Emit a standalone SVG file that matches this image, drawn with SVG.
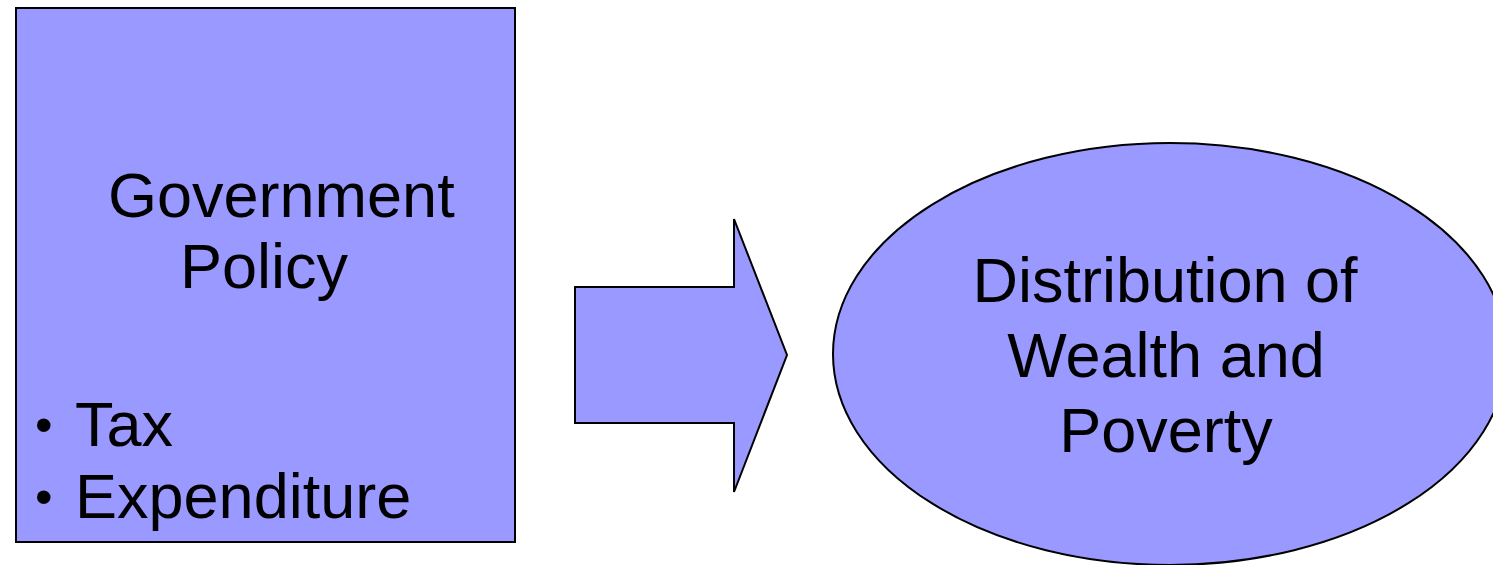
<svg xmlns="http://www.w3.org/2000/svg" width="1493" height="565" viewBox="0 0 1493 565">
  <style>
    .shape { fill: #9999FF; stroke: #000000; stroke-width: 2; stroke-linejoin: miter; }
    .label { font-family: "Liberation Sans", Arial, sans-serif; font-size: 63px; fill: #000000; }
    .bullet { font-family: "Liberation Sans", Arial, sans-serif; font-size: 50px; fill: #000000; }
  </style>
  <rect x="0" y="0" width="1493" height="565" fill="#FFFFFF"/>

  <!-- Policy box -->
  <g id="policy">
    <rect class="shape" x="16" y="8" width="499" height="534"/>
    <text class="label" x="108" y="217">Government</text>
    <text class="label" x="180" y="288">Policy</text>
    <text class="bullet" x="35" y="442">•</text>
    <text class="label" x="75" y="446">Tax</text>
    <text class="bullet" x="35" y="514">•</text>
    <text class="label" x="75" y="518">Expenditure</text>
  </g>

  <!-- Block arrow between the two nodes -->
  <g id="connectors">
    <polygon class="shape" points="575,287 734,287 734,219 787,355 734,492 734,423 575,423"/>
  </g>

  <!-- Outcome ellipse -->
  <g id="outcome">
    <ellipse class="shape" cx="1170" cy="354" rx="337" ry="211"/>
    <text class="label" x="1165" y="302" text-anchor="middle">Distribution of</text>
    <text class="label" x="1166" y="377" text-anchor="middle">Wealth and</text>
    <text class="label" x="1166" y="452" text-anchor="middle">Poverty</text>
  </g>
</svg>
